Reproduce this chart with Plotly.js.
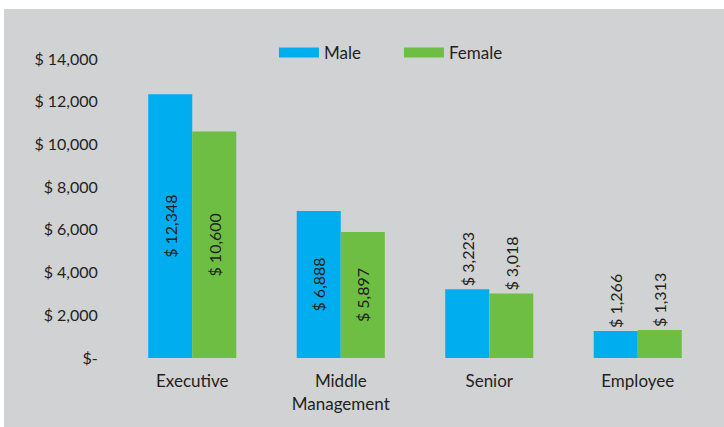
<!DOCTYPE html>
<html>
<head>
<meta charset="utf-8">
<script src="https://cdn.plot.ly/plotly-3.0.1.min.js"></script>
<style>html,body{margin:0;padding:0;background:#fff;}#chart{width:724px;height:427px;}</style>
</head>
<body>
<div id="chart"></div>
<script>
const categories = ['Executive', 'Middle<br>Management', 'Senior', 'Employee'];
const seriesNames = ['Male', 'Female'];
const maleValues = [12348, 6888, 3223, 1266];
const femaleValues = [10600, 5897, 3018, 1313];
const tickValues = [0, 2000, 4000, 6000, 8000, 10000, 12000, 14000];
const tickLabels = ['$-', '$ 2,000', '$ 4,000', '$ 6,000', '$ 8,000', '$ 10,000', '$ 12,000', '$ 14,000'];
const labelPositions = ['inside', 'inside', 'outside', 'outside'];

const fontFamily = 'Lato, "Noto Sans", sans-serif';
const textColor = '#231f20';
const colors = ['#00aeef', '#6fbe44'];

function barTrace(name, values, color) {
  return {
    type: 'bar', name: name, x: categories, y: values,
    legendgroup: name, showlegend: false,
    marker: {color: color},
    texttemplate: '$ %{y:,}',
    textposition: labelPositions,
    insidetextanchor: 'middle',
    textangle: -90,
    constraintext: 'none',
    cliponaxis: false,
    textfont: {family: fontFamily, size: 16, color: textColor},
    hoverinfo: 'skip'
  };
}

// legend-only entries giving wide rectangular swatches (no visible points)
function legendTrace(name, color) {
  return {
    type: 'scatter', mode: 'lines', name: name, legendgroup: name,
    x: [categories[0]], y: [null], line: {color: color, width: 12}, hoverinfo: 'skip'
  };
}

const data = [
  barTrace(seriesNames[0], maleValues, colors[0]),
  barTrace(seriesNames[1], femaleValues, colors[1]),
  legendTrace(seriesNames[0], colors[0]),
  legendTrace(seriesNames[1], colors[1])
];

const layout = {
  width: 724, height: 427,
  margin: {l: 118, r: 12, t: 59, b: 69},
  paper_bgcolor: '#ffffff',
  plot_bgcolor: 'rgba(0,0,0,0)',
  barmode: 'group',
  bargap: 0.407,
  bargroupgap: 0,
  font: {family: fontFamily, color: textColor},
  showlegend: true,
  legend: {
    orientation: 'h', x: 0.2626, xanchor: 'left', y: 1.02, yanchor: 'middle',
    font: {family: fontFamily, size: 17, color: textColor},
    bgcolor: 'rgba(0,0,0,0)', traceorder: 'normal',
    itemwidth: 40,
    entrywidth: 70, entrywidthmode: 'pixels'
  },
  xaxis: {
    showgrid: false, showline: false, zeroline: false,
    ticks: 'outside', ticklen: 8, tickcolor: 'rgba(0,0,0,0)',
    tickfont: {family: fontFamily, size: 17, color: textColor}
  },
  yaxis: {
    range: [0, 14000], showgrid: false, showline: false, zeroline: false,
    tickvals: tickValues, ticktext: tickLabels,
    ticks: 'outside', ticklen: 16, tickcolor: 'rgba(0,0,0,0)',
    tickfont: {family: fontFamily, size: 16, color: textColor}
  },
  shapes: [{
    type: 'rect', xref: 'paper', yref: 'paper', layer: 'below',
    x0: -0.1919, x1: 1.03, y0: -0.24, y1: 1.167,
    fillcolor: '#d1d2d4', line: {width: 0}
  }]
};

Plotly.newPlot('chart', data, layout, {displayModeBar: false, staticPlot: true});
</script>
</body>
</html>
